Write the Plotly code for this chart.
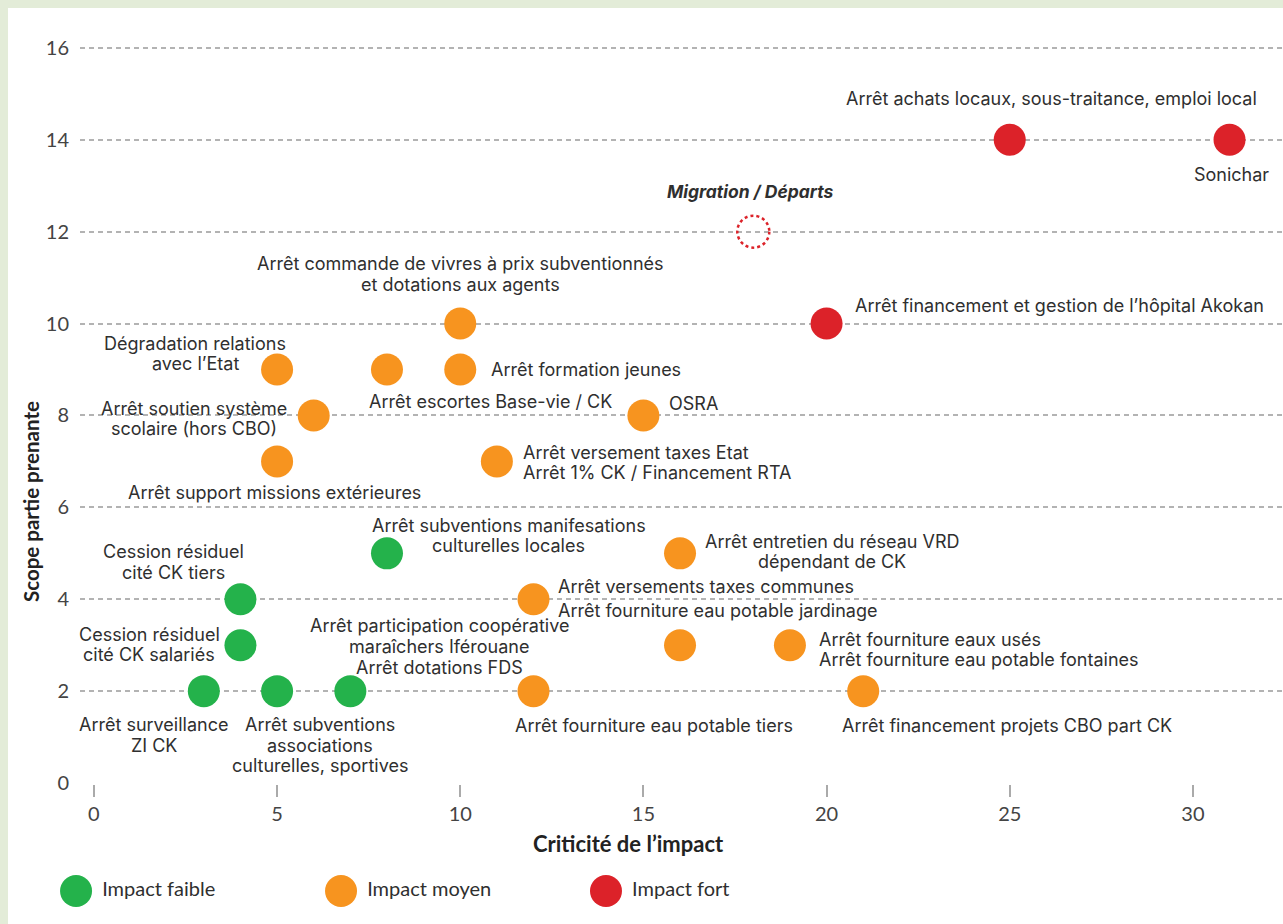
import plotly.graph_objects as go

# ---------------- data ----------------
green_x = [3, 5, 7, 4, 4, 8]
green_y = [2, 2, 2, 4, 3, 5]
orange_x = [10, 5, 8, 10, 6, 5, 15, 11, 16, 12, 16, 19, 12, 21]
orange_y = [10, 9, 9, 9, 8, 7, 8, 7, 5, 4, 3, 3, 2, 2]
red_x = [25, 31, 20]
red_y = [14, 14, 10]
migration_x = [18]
migration_y = [12]

label_text = [
    "Arrêt surveillance<br>ZI CK",
    "Arrêt subventions<br>associations<br>culturelles, sportives",
    "Arrêt participation coopérative<br>maraîchers Iférouane<br>Arrêt dotations FDS",
    "Cession résiduel<br>cité CK tiers",
    "Cession résiduel<br>cité CK salariés",
    "Arrêt subventions manifesations<br>culturelles locales",
    "Arrêt commande de vivres à prix subventionnés<br>et dotations aux agents",
    "Dégradation relations<br>avec l’Etat",
    "Arrêt formation jeunes",
    "Arrêt escortes Base-vie / CK",
    "Arrêt soutien système<br>scolaire (hors CBO)",
    "Arrêt support missions extérieures",
    "OSRA",
    "Arrêt versement taxes Etat<br>Arrêt 1% CK / Financement RTA",
    "Arrêt entretien du réseau VRD<br>dépendant de CK",
    "Arrêt versements taxes communes<br>Arrêt fourniture eau potable jardinage",
    "Arrêt fourniture eaux usés<br>Arrêt fourniture eau potable fontaines",
    "Arrêt fourniture eau potable tiers",
    "Arrêt financement projets CBO part CK",
    "Arrêt achats locaux, sous-traitance, emploi local",
    "Sonichar",
    "Arrêt financement et gestion de l’hôpital Akokan",
]
label_x = [3, 5, 7, 4, 4, 8, 10, 5, 10, 8, 6, 5, 15, 11, 16, 12, 19, 12, 21, 25, 31, 20]
label_y = [2, 2, 2, 4, 3, 5, 10, 9, 9, 9, 8, 7, 8, 7, 5, 4, 3, 2, 2, 14, 14, 10]

migration_label = "Migration / Départs"

legend_names = ["Impact faible", "Impact moyen", "Impact fort"]

x_ticks = [0, 5, 10, 15, 20, 25, 30]
y_ticks = [0, 2, 4, 6, 8, 10, 12, 14, 16]
x_title = "Criticité de l’impact"
y_title = "Scope partie prenante"

# ---------------- style ----------------
W, H = 1283, 924
GREEN = "#24b24b"
ORANGE = "#f7941f"
RED = "#dc2229"
TEXT = "#2f2f2f"
GRID = "#b3b3b3"
LABEL_FONT = "Inter, 'Open Sans', sans-serif"
LABEL_SIZE = 18
AXIS_FONT = "Lato, 'Open Sans', sans-serif"
MSIZE = 32

# placement of each label: (xanchor, xshift, yshift, line spacing) in pixels
label_place = [
    ("center", -50, -44, 20.5),
    ("center", 43, -54, 20.5),
    ("center", 89, 45, 21),
    ("center", -67, 37, 21),
    ("center", -91, 1, 20),
    ("center", 122, 18, 20),
    ("center", 0, 50, 21),
    ("center", -82, 16, 20),
    ("left", 29, 0, 20),
    ("center", 104, -32, 20),
    ("center", -120, -3, 20),
    ("center", -3, -31, 20),
    ("left", 24, 12, 20),
    ("left", 24, -1, 20),
    ("center", 152, 2, 20),
    ("left", 22, 1, 24),
    ("left", 27, -4, 20),
    ("center", 120, -34, 20),
    ("center", 144, -34, 20),
    ("center", 42, 41, 20),
    ("center", 2, -35, 20),
    ("left", 26, 18, 20),
]

fig = go.Figure()

fig.add_trace(go.Scatter(x=green_x, y=green_y, mode="markers",
                         marker=dict(size=MSIZE, color=GREEN), showlegend=False, hoverinfo="skip"))
fig.add_trace(go.Scatter(x=orange_x, y=orange_y, mode="markers",
                         marker=dict(size=MSIZE, color=ORANGE), showlegend=False, hoverinfo="skip"))
fig.add_trace(go.Scatter(x=red_x, y=red_y, mode="markers",
                         marker=dict(size=MSIZE, color=RED), showlegend=False, hoverinfo="skip"))

# dotted circle for migration
for mx, my in zip(migration_x, migration_y):
    fig.add_shape(type="circle", xref="x", yref="y", xsizemode="pixel", ysizemode="pixel",
                  xanchor=mx, yanchor=my, x0=-16, x1=16, y0=-16, y1=16,
                  line=dict(color=RED, width=2.5, dash="dot"))
    fig.add_annotation(x=mx, y=my, xref="x", yref="y", text="<b><i>" + migration_label + "</i></b>",
                       showarrow=False, xanchor="center", yanchor="middle", xshift=-3, yshift=40,
                       font=dict(family=LABEL_FONT, size=LABEL_SIZE - 0.5, color=TEXT))

# labels: one annotation per line so the line spacing can be tight
for t, x, y, (xa, xs, ys, ls) in zip(label_text, label_x, label_y, label_place):
    lines = t.split("<br>")
    n = len(lines)
    for i, line in enumerate(lines):
        fig.add_annotation(x=x, y=y, xref="x", yref="y", text=line, showarrow=False,
                           xanchor=xa, yanchor="middle", xshift=xs,
                           yshift=ys + ((n - 1) / 2 - i) * ls,
                           font=dict(family=LABEL_FONT, size=LABEL_SIZE, color=TEXT))

# legend drawn on its own axis
fig.add_trace(go.Scatter(x=legend_names, y=[0, 0, 0], xaxis="x2", yaxis="y2",
                         mode="markers+text", text=legend_names, textposition="middle right",
                         texttemplate=" %{text}",
                         textfont=dict(family=AXIS_FONT, size=20, color=TEXT),
                         marker=dict(size=MSIZE, color=[GREEN, ORANGE, RED]),
                         showlegend=False, hoverinfo="skip", cliponaxis=False))

# axis titles
fig.add_annotation(x=628 / W, y=(H - 843) / H, xref="paper", yref="paper",
                   text="<b>" + x_title + "</b>",
                   showarrow=False, xanchor="center", yanchor="middle",
                   font=dict(family=AXIS_FONT, size=22, color="#222222"))
fig.add_annotation(x=31 / W, y=(H - 502) / H, xref="paper", yref="paper",
                   text="<b>" + y_title + "</b>",
                   showarrow=False, xanchor="center", yanchor="middle", textangle=-90,
                   font=dict(family=AXIS_FONT, size=20.5, color="#222222"))

# white card over light green background
fig.add_shape(type="rect", xref="paper", yref="paper", x0=8 / W, x1=1, y0=0, y1=1 - 8 / H,
              fillcolor="white", line=dict(width=0), layer="below")

fig.update_layout(
    width=W, height=H, autosize=False,
    margin=dict(l=0, r=0, t=0, b=0, autoexpand=False),
    paper_bgcolor="#e3ecd8",
    plot_bgcolor="rgba(0,0,0,0)",
    xaxis=dict(domain=[80 / W, 1], range=[-0.38, 32.46], tickvals=x_ticks, automargin=False,
               showgrid=False, zeroline=False, showline=False,
               ticks="outside", ticklen=12, tickwidth=1.5, tickcolor="#aaaaaa",
               tickfont=dict(family=AXIS_FONT, size=20, color="#444444")),
    yaxis=dict(domain=[(H - 784) / H, (H - 12) / H], range=[-0.02, 16.78], tickvals=y_ticks,
               automargin=False,
               showgrid=True, gridcolor=GRID, gridwidth=1.5, griddash="5px,4px",
               zeroline=False, showline=False, ticks="", ticklabelstandoff=10,
               tickfont=dict(family=AXIS_FONT, size=20, color="#444444")),
    xaxis2=dict(domain=[0, 1], anchor="y2", type="category", range=[-0.287, 4.555], visible=False,
                categoryorder="array", categoryarray=legend_names),
    yaxis2=dict(domain=[(H - 891 - 26) / H, (H - 891 + 26) / H], anchor="x2", range=[-1, 1],
                visible=False),
    showlegend=False,
)

fig.write_html("out.html",
               config={"responsive": False, "displayModeBar": False},
               post_script="document.body.style.margin='0';document.body.style.overflow='hidden';")
